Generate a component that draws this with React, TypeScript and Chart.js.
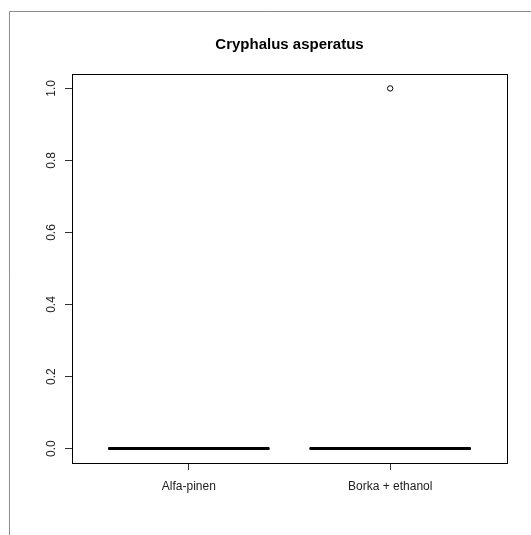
import React, { useEffect, useRef } from 'react';
import { Chart, registerables } from 'chart.js';

Chart.register(...registerables);

// Box plot summary per treatment
const categories = ['Alfa-pinen', 'Borka + ethanol'];
const lowerWhisker = [0, 0];
const lowerQuartile = [0, 0];
const medians = [0, 0];
const upperQuartile = [0, 0];
const upperWhisker = [0, 0];
const outliers: number[][] = [[], [1]];
const yTicks = [0, 0.2, 0.4, 0.6, 0.8, 1.0];
const chartTitle = 'Cryphalus asperatus';

const FONT = '"Liberation Sans", Arial, Helvetica, sans-serif';
const BOX_HALF = 0.4;
const STAPLE_HALF = 0.2;

const seg = (pts: [number, number][], extra: Record<string, unknown> = {}) => ({
  type: 'line' as const,
  data: pts.map(([x, y]) => ({ x, y })),
  showLine: true,
  borderColor: '#000',
  borderWidth: 1,
  pointRadius: 0,
  fill: false,
  tension: 0,
  ...extra,
});

function buildDatasets() {
  const sets: any[] = [];
  categories.forEach((_, i) => {
    const x = i + 1;
    const lo = lowerWhisker[i];
    const q1 = lowerQuartile[i];
    const q3 = upperQuartile[i];
    const hi = upperWhisker[i];
    // whiskers and staples
    sets.push(seg([[x, q3], [x, hi]], { borderDash: [4, 4] }));
    sets.push(seg([[x, q1], [x, lo]], { borderDash: [4, 4] }));
    sets.push(seg([[x - STAPLE_HALF, hi], [x + STAPLE_HALF, hi]]));
    sets.push(seg([[x - STAPLE_HALF, lo], [x + STAPLE_HALF, lo]]));
    // box outline
    sets.push(
      seg([
        [x - BOX_HALF, q1],
        [x + BOX_HALF, q1],
        [x + BOX_HALF, q3],
        [x - BOX_HALF, q3],
        [x - BOX_HALF, q1],
      ])
    );
    // median bar
    sets.push(
      seg([[x - BOX_HALF, medians[i]], [x + BOX_HALF, medians[i]]], {
        borderWidth: 3,
        borderCapStyle: 'butt',
      })
    );
  });
  sets.push({
    type: 'scatter' as const,
    data: outliers.flatMap((vals, i) => vals.map((v) => ({ x: i + 1, y: v }))),
    showLine: false,
    pointStyle: 'circle',
    pointRadius: 2.7,
    pointBorderWidth: 1,
    pointBorderColor: '#000',
    pointBackgroundColor: 'rgba(0,0,0,0)',
  });
  return sets;
}

const framePlugin = {
  id: 'frame',
  beforeDraw(chart: any) {
    const ctx = chart.ctx;
    ctx.save();
    ctx.strokeStyle = '#8c8c8c';
    ctx.lineWidth = 1;
    ctx.beginPath();
    ctx.moveTo(9.5, chart.height);
    ctx.lineTo(9.5, 11.5);
    ctx.lineTo(chart.width, 11.5);
    ctx.stroke();
    ctx.restore();
  },
  afterDraw(chart: any) {
    const { ctx, chartArea: a } = chart;
    ctx.save();
    ctx.strokeStyle = '#000';
    ctx.lineWidth = 1;
    ctx.strokeRect(
      Math.round(a.left) + 0.5,
      Math.round(a.top) + 0.5,
      Math.round(a.right - a.left),
      Math.round(a.bottom - a.top)
    );
    // y tick labels, reading upward like the axis
    const ys = chart.scales.y;
    ctx.fillStyle = '#222';
    ctx.font = `12px ${FONT}`;
    ctx.textAlign = 'center';
    ctx.textBaseline = 'middle';
    yTicks.forEach((v) => {
      const py = ys.getPixelForValue(v);
      ctx.save();
      ctx.translate(51.5, py);
      ctx.rotate(-Math.PI / 2);
      ctx.fillText(v.toFixed(1), 0, 0);
      ctx.restore();
    });
    ctx.restore();
  },
};

export default function App() {
  const ref = useRef<HTMLCanvasElement | null>(null);

  useEffect(() => {
    if (!ref.current) return;
    const chart = new Chart(ref.current, {
      type: 'scatter',
      data: { datasets: buildDatasets() },
      options: {
        animation: false,
        responsive: false,
        events: [],
        layout: { padding: { left: 0, right: 24, top: 0, bottom: 0 } },
        plugins: {
          legend: { display: false },
          tooltip: { enabled: false },
          title: {
            display: true,
            text: chartTitle,
            fullSize: false,
            color: '#000',
            font: { family: FONT, size: 15, weight: 'bold', lineHeight: 1.2 },
            padding: { top: 35.6, bottom: 20.4 },
          },
        },
        scales: {
          x: {
            type: 'linear',
            min: 0.42,
            max: 2.58,
            border: { display: false },
            grid: {
              drawOnChartArea: false,
              drawTicks: true,
              tickLength: 7,
              color: '#333',
            },
            ticks: {
              autoSkip: false,
              maxRotation: 0,
              padding: 9,
              color: '#222',
              font: { family: FONT, size: 12 },
              callback: (v: any) => categories[Math.round(Number(v)) - 1] ?? '',
            },
            afterBuildTicks: (scale: any) => {
              scale.ticks = categories.map((_, i) => ({ value: i + 1 }));
            },
            afterFit: (scale: any) => {
              scale.height = 72;
            },
          },
          y: {
            type: 'linear',
            min: -0.04,
            max: 1.04,
            border: { display: false },
            grid: {
              drawOnChartArea: false,
              drawTicks: true,
              tickLength: 7,
              color: '#333',
            },
            ticks: { display: false },
            afterBuildTicks: (scale: any) => {
              scale.ticks = yTicks.map((v) => ({ value: v }));
            },
            afterFit: (scale: any) => {
              scale.width = 72;
            },
          },
        },
      },
      plugins: [framePlugin],
    } as any);
    return () => chart.destroy();
  }, []);

  return (
    <div style={{ position: 'absolute', left: 0, top: 0, width: 531, height: 535, background: '#fff' }}>
      <canvas ref={ref} width={531} height={535} style={{ display: 'block' }} />
    </div>
  );
}
